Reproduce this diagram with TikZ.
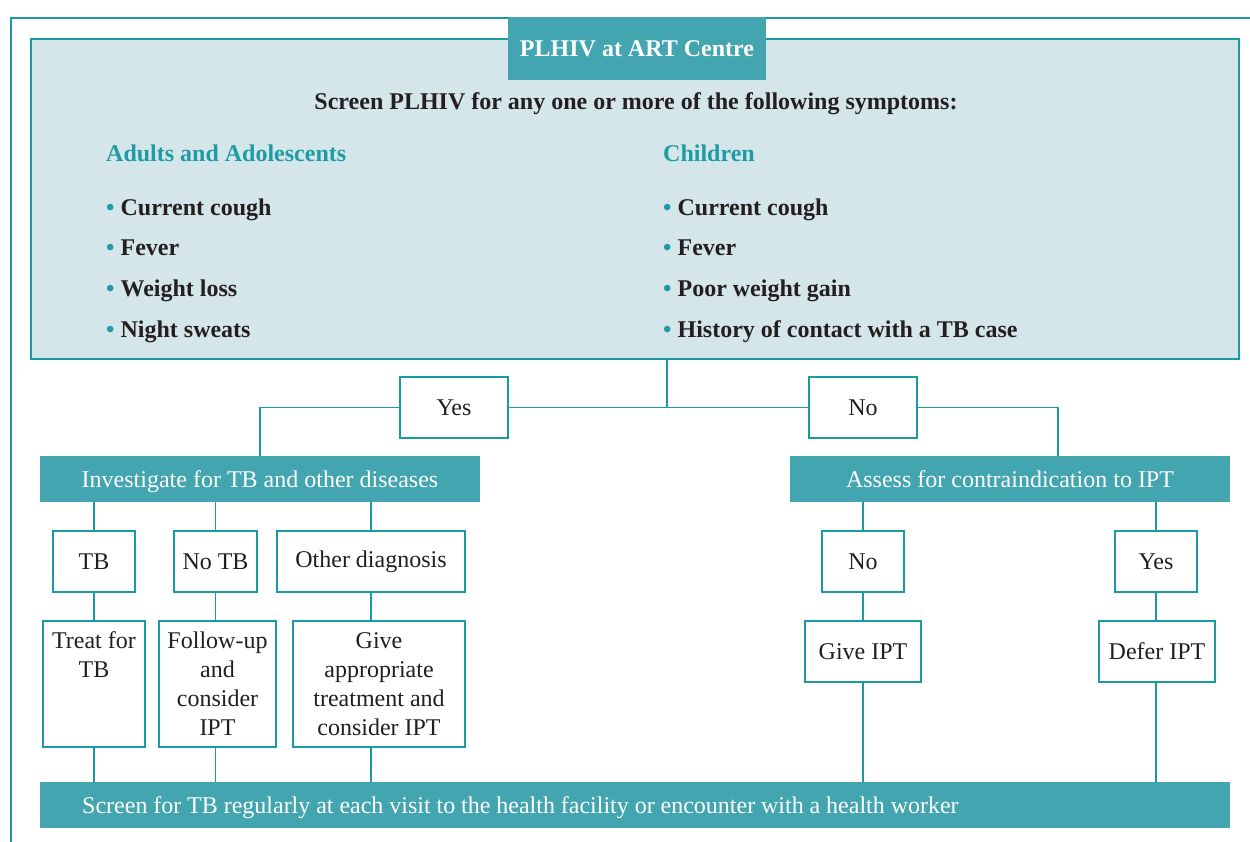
\documentclass[tikz,border=0pt]{standalone}
\usepackage{fontspec}
\setmainfont{Liberation Serif}
\definecolor{tealline}{HTML}{1A9BA1}
\definecolor{tealfill}{HTML}{42A5B0}
\definecolor{palefill}{HTML}{D5E6EB}
\definecolor{heading}{HTML}{1E9BA3}
\definecolor{ink}{HTML}{231F20}
\tikzset{
  conn/.style={draw=tealline, line width=1.4pt},
  whitebox/.style={draw=tealline, fill=white, line width=1.4pt, text=ink,
    inner sep=0pt, align=center, font=\fontsize{24}{29}\selectfont},
  bandbox/.style={fill=tealfill, text=white, inner sep=0pt,
    text height=16pt, text depth=0pt,
    font=\fontsize{24}{29}\selectfont},
  symptom/.style={anchor=mid west, inner sep=0pt, text=ink,
    font=\fontsize{24}{28}\selectfont\bfseries},
  grouphead/.style={anchor=mid west, inner sep=0pt, text=heading,
    font=\fontsize{24}{28}\selectfont\bfseries},
}
\newcommand{\bul}{{\color{heading}•}\ }
\begin{document}
\begin{tikzpicture}[x=1pt,y=-1pt]
\useasboundingbox (0,0) rectangle (1250,842);

% open outer frame
\draw[conn] (11,842) -- (11,18) -- (1250,18);

% screening panel
\node[draw=tealline, fill=palefill, line width=1.4pt, minimum width=1208pt,
  minimum height=320pt, inner sep=0pt] (screen) at (635,199) {};
\node[bandbox, minimum width=258pt, minimum height=63pt, text height=16pt,
  font=\fontsize{24}{28}\selectfont\bfseries] (title) at (637,49) {PLHIV at ART Centre};
\node[inner sep=0pt, text=ink, font=\fontsize{24}{28}\selectfont\bfseries] (ask)
  at (636,104) {Screen PLHIV for any one or more of the following symptoms:};

\node[grouphead] (adults) at (106,159) {Adults and Adolescents};
\node[symptom] (a1) at (106,213) {\bul Current cough};
\node[symptom] (a2) at (106,253) {\bul Fever};
\node[symptom] (a3) at (106,294) {\bul Weight loss};
\node[symptom] (a4) at (106,335) {\bul Night sweats};

\node[grouphead] (kids) at (663,159) {Children};
\node[symptom] (c1) at (663,213) {\bul Current cough};
\node[symptom] (c2) at (663,253) {\bul Fever};
\node[symptom] (c3) at (663,294) {\bul Poor weight gain};
\node[symptom] (c4) at (663,335) {\bul History of contact with a TB case};

% first decision
\node[whitebox, minimum width=108pt, minimum height=61pt] (yes) at (454,407.5) {Yes};
\node[whitebox, minimum width=108pt, minimum height=61pt] (no) at (863,407.5) {No};
\coordinate (split) at (667,407.5);

\node[bandbox, minimum width=440pt, minimum height=46pt] (invest) at (260,479)
  {Investigate for TB and other diseases};
\node[bandbox, minimum width=440pt, minimum height=46pt] (assess) at (1010,479)
  {Assess for contraindication to IPT};

% investigation outcomes
\node[whitebox, minimum width=82pt, minimum height=61pt] (tb) at (94,561.5) {TB};
\node[whitebox, minimum width=83pt, minimum height=61pt] (notb) at (215.5,561.5) {No TB};
\node[whitebox, minimum width=188pt, minimum height=61pt] (other) at (371,561.5) {Other diagnosis};

\node[whitebox, minimum width=102pt, minimum height=126pt] (treat) at (94,684)
  {Treat for\\TB\\~\\~};
\node[whitebox, minimum width=117pt, minimum height=126pt] (follow) at (217.5,684)
  {Follow-up\\and\\consider\\IPT};
\node[whitebox, minimum width=172pt, minimum height=126pt] (give) at (379,684)
  {Give\\appropriate\\treatment and\\consider IPT};

% contraindication outcomes
\node[whitebox, minimum width=82pt, minimum height=61pt] (noci) at (863,561.5) {No};
\node[whitebox, minimum width=82pt, minimum height=61pt] (yesci) at (1156,561.5) {Yes};
\node[whitebox, minimum width=116pt, minimum height=61pt] (ipt) at (863,651.5) {Give IPT};
\node[whitebox, minimum width=116pt, minimum height=61pt] (defer) at (1157,651.5) {Defer IPT};

% follow-up bar
\node[bandbox, minimum width=1190pt, minimum height=46pt] (bar) at (635,805) {};
\node[bandbox, fill=none, anchor=west] (bartext) at (82,805)
  {\spaceskip=0.245em\relax Screen for TB regularly at each visit to the health facility or encounter with a health worker};

% connectors
\draw[conn] (screen.south -| split) -- (split);
\draw[conn] (yes.east) -- (no.west);
\draw[conn] (yes.west) -| (invest.north);
\draw[conn] (no.east) -| ([xshift=48pt]assess.north);

\draw[conn] (invest.south -| tb) -- (tb.north);
\draw[conn] (invest.south -| notb) -- (notb.north);
\draw[conn] (invest.south -| other) -- (other.north);
\draw[conn] (tb.south) -- (treat.north -| tb);
\draw[conn] (notb.south) -- (follow.north -| notb);
\draw[conn] (other.south) -- (give.north -| other);
\draw[conn] (treat.south -| tb) -- (bar.north -| tb);
\draw[conn] (follow.south -| notb) -- (bar.north -| notb);
\draw[conn] (give.south -| other) -- (bar.north -| other);

\draw[conn] (assess.south -| noci) -- (noci.north);
\draw[conn] (assess.south -| yesci) -- (yesci.north);
\draw[conn] (noci.south) -- (ipt.north -| noci);
\draw[conn] (yesci.south) -- (defer.north -| yesci);
\draw[conn] (ipt.south -| noci) -- (bar.north -| noci);
\draw[conn] (defer.south -| yesci) -- (bar.north -| yesci);
\end{tikzpicture}
\end{document}
